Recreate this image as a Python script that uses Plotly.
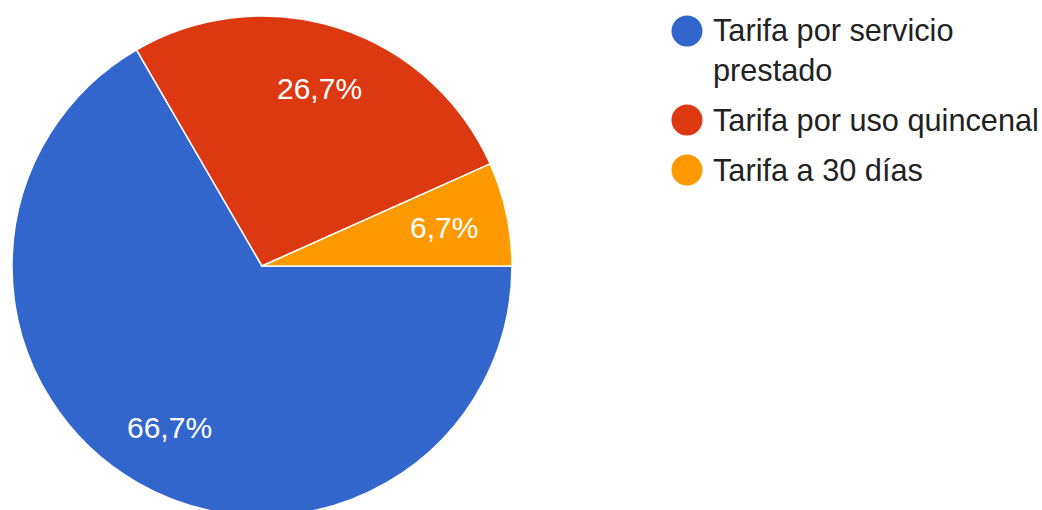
import math
import plotly.graph_objects as go

# Payment plan shares (percent of responses)
labels = ["Tarifa por servicio prestado", "Tarifa por uso quincenal", "Tarifa a 30 días"]
legend_lines = ["Tarifa por servicio<br>prestado", "Tarifa por uso quincenal", "Tarifa a 30 días"]
values = [66.7, 26.7, 6.7]
colors = ["#3366CC", "#DC3912", "#FF9900"]

W, H = 1042, 532
FONT = "Arial, 'Liberation Sans', sans-serif"

# Pie placement in pixels (center and radius follow from the domain)
PIE_X0, PIE_X1 = 12, 512
cx_pie = (PIE_X0 + PIE_X1) / 2
cy_pie = H / 2
radius = (PIE_X1 - PIE_X0) / 2

pct_text = [f"{v:.1f}%".replace(".", ",") for v in values]

fig = go.Figure(
    go.Pie(
        labels=labels,
        values=values,
        textinfo="none",
        marker=dict(colors=colors, line=dict(color="white", width=1.5)),
        sort=False,
        direction="clockwise",
        rotation=90,
        hoverinfo="label+percent",
        showlegend=False,
        domain=dict(x=[PIE_X0 / W, PIE_X1 / W], y=[0, 1]),
    )
)

annotations = []

# Percentage labels at ~3/4 of the radius, centred on each slice's mid-angle
total = sum(values)
start = 90.0  # degrees clockwise from 12 o'clock
for v, t in zip(values, pct_text):
    sweep = 360.0 * v / total
    mid = math.radians(start + sweep / 2)
    px = cx_pie + 0.745 * radius * math.sin(mid)
    py = cy_pie - 0.745 * radius * math.cos(mid)
    annotations.append(dict(
        xref="paper", yref="paper", x=px / W, y=1 - py / H,
        xanchor="center", yanchor="middle", text=t, showarrow=False,
        font=dict(family=FONT, size=30, color="white"),
    ))
    start += sweep

# Legend drawn as round swatches with labels beside them
legend_y = [31, 120, 170]
legend_text_y = [51, 120, 170]
shapes = []
r = 15.5
cx = 687
for lab, col, yc, yt in zip(legend_lines, colors, legend_y, legend_text_y):
    shapes.append(dict(
        type="circle", xref="paper", yref="paper",
        x0=(cx - r) / W, x1=(cx + r) / W,
        y0=1 - (yc + r) / H, y1=1 - (yc - r) / H,
        fillcolor=col, line=dict(width=0),
    ))
    annotations.append(dict(
        xref="paper", yref="paper", x=711 / W, y=1 - yt / H,
        xanchor="left", yanchor="middle", align="left",
        text=lab, showarrow=False,
        font=dict(family=FONT, size=30.7, color="#222222"),
    ))

fig.update_layout(
    width=W, height=H,
    margin=dict(l=0, r=0, t=0, b=0),
    paper_bgcolor="white", plot_bgcolor="white",
    shapes=shapes, annotations=annotations,
)

fig.write_html(
    "out.html",
    post_script="document.documentElement.style.overflow='hidden';document.body.style.overflow='hidden';",
)
